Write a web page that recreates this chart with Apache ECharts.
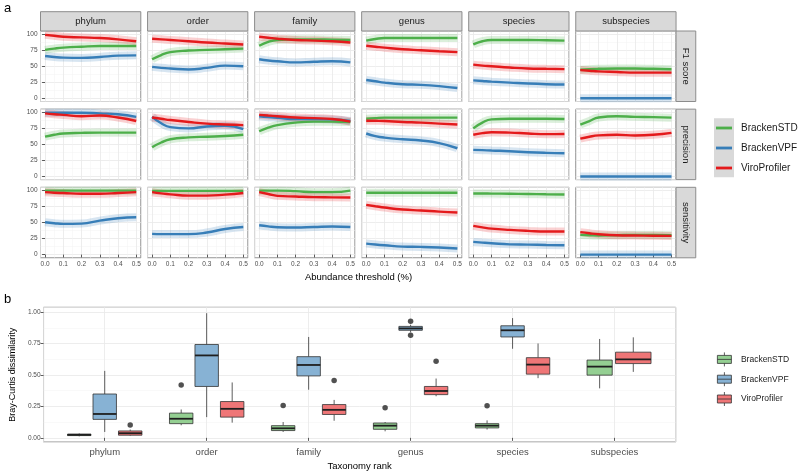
<!DOCTYPE html>
<html><head><meta charset="utf-8">
<script src="https://cdn.jsdelivr.net/npm/echarts@6/dist/echarts.min.js"></script>
<style>html,body{margin:0;padding:0;background:#fff}#c{width:800px;height:472px}</style>
</head><body><div id="c"></div>
<script>
// ---------- data ----------
const ranks = ['phylum','order','family','genus','species','subspecies'];
const metrics = ['F1 score','precision','sensitivity'];
const methods = ['BrackenSTD','BrackenVPF','ViroProfiler'];
const thresholds = [0, 0.05, 0.1, 0.2, 0.3, 0.4, 0.5];

// smoothed curves, one row per rank (phylum..subspecies), values at thresholds
const f1STD = [
  [75.5,77.5,79,80.5,81.5,81.6,81.6],[61,67.5,72,74.5,75.5,76.5,77.5],[82,88,91,92,92,91.5,91],
  [90,92.5,94,94,94,94,94],[84,89,91,91,91,90.5,90],[44.5,45.5,46,46.4,46.4,46,45.4]];
const f1VPF = [
  [66,64.5,63.5,63,64.5,66.5,67],[49,47.5,46.5,45,47.5,51,50],[61,59,57.7,56,57,57.7,56],
  [28.5,26.5,24.5,22,21,19,16],[28,27,26,24.5,23,22,21.5],[0,0,0,0,0,0,0]];
const f1Viro = [
  [99,97.5,96,95,94,92,89],[93,92,91,89,87,85.5,84],[96,94.5,93,91,90,89,87],
  [82,80.5,79,76.5,75,73.5,72],[52.5,51,50,48,46.5,46,45.5],[44,43,42,41,40,40,40]];

const precSTD = [
  [62,65,67,68,68.4,68.4,68.4],[45.6,53,58,61,62,63,65],[70.5,76,80,84,85.5,85.5,85],
  [90,91,91.7,91.7,91.7,91.7,91.7],[75,84,89,90,90,90,89.6],[81,86.5,92,94,93,92.5,91.7]];
const precVPF = [
  [99.5,99.5,99.5,99.5,98.4,97,93],[93,83,77,75,78,79,74],[94,92.5,91.5,89.6,89.5,89,86.5],
  [67,63,60.6,58,56,52,44],[41.5,41,40.4,39.4,37.8,36.8,36.3],[0,0,0,0,0,0,0]];
const precViro = [
  [98.4,97,96,94,95,92,86.5],[92,90,88,85,82.4,81,80],[96,95,94,92,91,89.6,85.5],
  [87,86.8,86.5,85,84,82.4,81],[65,67.5,69,68.4,67,66,66.3],[59,62,64,65,64,65,68]];

const sensSTD = [
  [99.8,99.8,99.8,99.8,99.8,99.8,99.8],[99.5,99.5,99.5,99.5,99.5,99.5,99.5],[99.8,99.8,99.8,99,97.4,97.4,99.8],
  [96.4,96.4,96.4,96.4,96.4,96.4,96.4],[95.3,95.3,95.2,95,94.6,94.2,93.8],[30.7,30.2,29.7,30.2,30.7,30.5,30.2]];
const sensVPF = [
  [50.5,49,48,48.4,53,56.8,58.3],[32.3,32,32,32,34.4,40,43],[45.8,44,42.7,42.2,43,43.8,43],
  [17.2,15.8,14.6,12.5,12,11,9.4],[19.8,18.7,17.7,16,15.6,15,14.6],[0,0,0,0,0,0,0]];
const sensViro = [
  [97.4,96.5,96,95,95,96,97.4],[97.4,95.5,94,92,92,93.5,96],[97.4,94.5,91.7,90.6,89.6,89.3,89],
  [77.6,75.5,73.4,70.3,68.8,67,65.6],[44.8,42.5,40.6,38.5,37,36,36],[35,33.2,31.8,30.2,29.7,29.4,29.2]];

// Bray-Curtis boxplots: [min, Q1, median, Q3, max] per rank
const boxSTD = [
  [0.012,0.018,0.024,0.030,0.035],[0.100,0.113,0.152,0.197,0.226],[0.047,0.058,0.076,0.097,0.126],
  [0.052,0.068,0.097,0.118,0.126],[0.066,0.079,0.097,0.113,0.139],[0.394,0.499,0.567,0.619,0.787]];
const boxVPF = [
  [0.047,0.147,0.190,0.349,0.533],[0.165,0.409,0.656,0.743,0.992],[0.383,0.493,0.580,0.646,0.803],
  [0.840,0.856,0.871,0.887,0.900],[0.709,0.803,0.856,0.892,0.953],null];
const boxViro = [
  [0.016,0.021,0.037,0.055,0.066],[0.121,0.165,0.231,0.289,0.441],[0.136,0.186,0.223,0.265,0.302],
  [0.331,0.344,0.373,0.409,0.472],[0.475,0.507,0.583,0.638,0.751],[0.525,0.591,0.625,0.682,0.800]];
// outliers: [rank index, value]
const outSTD = [[1,0.420],[2,0.257],[3,0.239],[4,0.255]];
const outVPF = [[3,0.927],[3,0.816]];
const outViro = [[0,0.102],[2,0.457],[3,0.609]];

// ---------- styling / layout ----------
const FONT = '"Liberation Sans", Arial, Helvetica, sans-serif';
const lineColors = ['#4DAF4A','#377EB8','#E41A1C'];
const boxFills = ['#94CF92','#87B2D4','#EF7677'];
const BORDER = '#8c8c8c';
const PX0 = 40.5, PSTEP = 107.05, PW = 100.3;
const PY0 = 31, PYSTEP = 78.15, PH = 70.5;
const STRIP_TOP = 11.7, STRIP_W = 19.7;

const curveSets = [[f1STD,f1VPF,f1Viro],[precSTD,precVPF,precViro],[sensSTD,sensVPF,sensViro]];

const grid = [], xAxis = [], yAxis = [], series = [], graphic = [];
const tickLabel = {fontSize:6.5, color:'#4d4d4d', fontFamily:FONT};

for (let r = 0; r < 3; r++) {
  for (let c = 0; c < 6; c++) {
    const gi = grid.length;
    grid.push({left:PX0 + c*PSTEP, top:PY0 + r*PYSTEP, width:PW, height:PH, show:true,
      backgroundColor:'#fff', borderColor:BORDER, borderWidth:1});
    xAxis.push({gridIndex:gi, type:'value', min:-0.025, max:0.525, minInterval:0.1, maxInterval:0.1,
      axisLine:{show:false},
      axisTick:{show:r===2, length:3, lineStyle:{color:'#333', width:0.8}},
      axisLabel:Object.assign({show:r===2, margin:3, showMinLabel:false, showMaxLabel:false,
        formatter:v => v.toFixed(1)}, tickLabel),
      splitLine:{show:true, lineStyle:{color:'#e8e8e8', width:0.8}},
      minorTick:{show:false, splitNumber:2},
      minorSplitLine:{show:true, lineStyle:{color:'#f3f3f3', width:0.5}}});
    yAxis.push({gridIndex:gi, type:'value', min:-5, max:105, minInterval:25, maxInterval:25,
      axisLine:{show:false},
      axisTick:{show:c===0, length:3, lineStyle:{color:'#333', width:0.8}},
      axisLabel:Object.assign({show:c===0, margin:3, showMinLabel:false, showMaxLabel:false}, tickLabel),
      splitLine:{show:true, lineStyle:{color:'#e8e8e8', width:0.8}},
      minorTick:{show:false, splitNumber:2},
      minorSplitLine:{show:true, lineStyle:{color:'#f3f3f3', width:0.5}}});
    for (let m = 0; m < 3; m++) {
      const vals = curveSets[r][m][c];
      const data = thresholds.map((x, i) => [x, vals[i]]);
      series.push({type:'line', name:methods[m], xAxisIndex:gi, yAxisIndex:gi, data, smooth:0.5,
        symbol:'none', silent:true, clip:false, z:2,
        lineStyle:{width:8, color:lineColors[m], opacity:0.2}});
      series.push({type:'line', name:methods[m], xAxisIndex:gi, yAxisIndex:gi, data, smooth:0.5,
        symbol:'none', silent:true, clip:false, z:3,
        lineStyle:{width:2.4, color:lineColors[m]}});
    }
  }
}

// strips
for (let c = 0; c < 6; c++) {
  const x = PX0 + c*PSTEP;
  graphic.push({type:'rect', shape:{x, y:STRIP_TOP, width:PW, height:PY0-STRIP_TOP},
    style:{fill:'#d9d9d9', stroke:BORDER, lineWidth:1}, z:10});
  graphic.push({type:'text', x:x+PW/2, y:(STRIP_TOP+PY0)/2 + 0.5, z:11,
    style:{text:ranks[c], fill:'#1a1a1a', font:'9.5px ' + FONT, align:'center', verticalAlign:'middle'}});
}
const RX = PX0 + 5*PSTEP + PW;
for (let r = 0; r < 3; r++) {
  const y = PY0 + r*PYSTEP;
  graphic.push({type:'rect', shape:{x:RX, y, width:STRIP_W, height:PH},
    style:{fill:'#d9d9d9', stroke:BORDER, lineWidth:1}, z:10});
  graphic.push({type:'text', x:RX + STRIP_W/2, y:y + PH/2, rotation:-Math.PI/2, z:11,
    style:{text:metrics[r], fill:'#1a1a1a', font:'9.5px ' + FONT, align:'center', verticalAlign:'middle'}});
}
// legend a key background
graphic.push({type:'rect', shape:{x:714, y:118.3, width:20, height:59}, style:{fill:'#d9d9d9'}, z:0});
graphic.push({type:'text', x:358.5, y:277, style:{text:'Abundance threshold (%)', fill:'#000',
  font:'9.5px ' + FONT, align:'center', verticalAlign:'middle'}});
graphic.push({type:'text', x:4, y:8, style:{text:'a', fill:'#000', font:'13px ' + FONT, verticalAlign:'middle'}});
graphic.push({type:'text', x:4, y:299, style:{text:'b', fill:'#000', font:'13px ' + FONT, verticalAlign:'middle'}});

// ---------- panel b ----------
const gb = grid.length;
grid.push({left:40, top:307.3, width:635.7, height:136, show:true, backgroundColor:'#fff',
  borderColor:BORDER, borderWidth:1});
xAxis.push({gridIndex:gb, type:'value', min:0.4, max:6.6, minInterval:1, maxInterval:1,
  name:'Taxonomy rank', nameLocation:'middle', nameGap:19,
  nameTextStyle:{fontSize:9.5, color:'#000', fontFamily:FONT},
  axisLine:{show:false}, axisTick:{show:true, length:3, lineStyle:{color:'#333', width:0.8}},
  axisLabel:{fontSize:9.5, color:'#4d4d4d', fontFamily:FONT, margin:5, showMinLabel:false, showMaxLabel:false,
    formatter:v => ranks[Math.round(v)-1] || ''},
  splitLine:{show:true, lineStyle:{color:'#e8e8e8', width:0.8}}});
yAxis.push({gridIndex:gb, type:'value', min:-0.033, max:1.039, minInterval:0.25, maxInterval:0.25,
  name:'Bray-Curtis dissimilarity', nameLocation:'middle', nameRotate:90, nameGap:25,
  nameTextStyle:{fontSize:9, color:'#000', fontFamily:FONT},
  axisLine:{show:false}, axisTick:{show:true, length:3, lineStyle:{color:'#333', width:0.8}},
  axisLabel:Object.assign({margin:3, showMinLabel:false, showMaxLabel:false, formatter:v => v.toFixed(2)}, tickLabel),
  splitLine:{show:true, lineStyle:{color:'#e8e8e8', width:0.8}},
  minorTick:{show:false, splitNumber:2},
  minorSplitLine:{show:true, lineStyle:{color:'#f3f3f3', width:0.5}}});

const boxSets = [boxSTD, boxVPF, boxViro];
const outSets = [outSTD, outVPF, outViro];
const dodge = {3:{off:[-0.25,0,0.25], w:[0.23,0.23,0.23]}, 2:{off:[-0.146,0.184], w:[0.247,0.348]}};
function slot(ri, m) {
  const present = [0,1,2].filter(k => boxSets[k][ri]);
  const d = dodge[present.length]; const k = present.indexOf(m);
  return {off:d.off[k], w:d.w[k]};
}
function renderBox(params, api) {
  const xc = api.value(0), hw = api.value(6)/2;
  const lo = api.value(1), q1 = api.value(2), md = api.value(3), q3 = api.value(4), hi = api.value(5);
  const tl = api.coord([xc-hw, q3]), br = api.coord([xc+hw, q1]);
  const ph = api.coord([xc, hi]), pl = api.coord([xc, lo]);
  const m1 = api.coord([xc-hw, md]), m2 = api.coord([xc+hw, md]);
  const st = {stroke:'#333', lineWidth:0.8};
  return {type:'group', children:[
    {type:'line', shape:{x1:ph[0], y1:ph[1], x2:ph[0], y2:tl[1]}, style:st},
    {type:'line', shape:{x1:pl[0], y1:br[1], x2:pl[0], y2:pl[1]}, style:st},
    {type:'rect', shape:{x:tl[0], y:tl[1], width:br[0]-tl[0], height:br[1]-tl[1]},
      style:{fill:api.visual('color'), stroke:'#333', lineWidth:0.8}},
    {type:'line', shape:{x1:m1[0], y1:m1[1], x2:m2[0], y2:m2[1]}, style:{stroke:'#1f1f1f', lineWidth:1.8}}
  ]};
}
for (let m = 0; m < 3; m++) {
  const data = [];
  boxSets[m].forEach((b, ri) => {
    if (!b) return;
    const s = slot(ri, m);
    data.push([ri+1+s.off].concat(b, [s.w]));
  });
  series.push({type:'custom', name:methods[m], xAxisIndex:gb, yAxisIndex:gb, renderItem:renderBox,
    itemStyle:{color:boxFills[m]}, data, encode:{x:0, y:[1,2,3,4,5]}, z:3, silent:true});
  series.push({type:'scatter', name:methods[m], xAxisIndex:gb, yAxisIndex:gb, symbolSize:5.5, z:4, silent:true,
    itemStyle:{color:'#262626'},
    data:outSets[m].map(([ri, v]) => [ri+1+slot(ri, m).off, v])});
}

const boxIcon = 'path://M7,0L7,3M0,3L14,3L14,11L0,11ZM0,7L14,7M7,11L7,14';
const option = {
  animation:false,
  backgroundColor:'#fff',
  textStyle:{fontFamily:FONT},
  grid, xAxis, yAxis, series, graphic,
  legend:[
    {orient:'vertical', left:716, top:122, padding:0, itemWidth:16, itemHeight:2.8, itemGap:8, selectedMode:false,
     textStyle:{fontSize:10, color:'#1a1a1a', lineHeight:12, padding:[0,0,0,4], fontFamily:FONT},
     data:methods.map((n, i) => ({name:n, icon:'rect', itemStyle:{color:lineColors[i], borderWidth:0}}))},
    {orient:'vertical', left:717, top:352, padding:0, itemWidth:15, itemHeight:14, itemGap:5, selectedMode:false,
     textStyle:{fontSize:8.5, color:'#1a1a1a', lineHeight:14, padding:[0,0,0,4], fontFamily:FONT},
     data:methods.map((n, i) => ({name:n, icon:boxIcon,
       itemStyle:{color:boxFills[i], borderColor:'#333', borderWidth:0.8}}))}
  ]
};
const chart = echarts.init(document.getElementById('c'), null, {renderer:'canvas'});
chart.setOption(option);
</script>
</body></html>
